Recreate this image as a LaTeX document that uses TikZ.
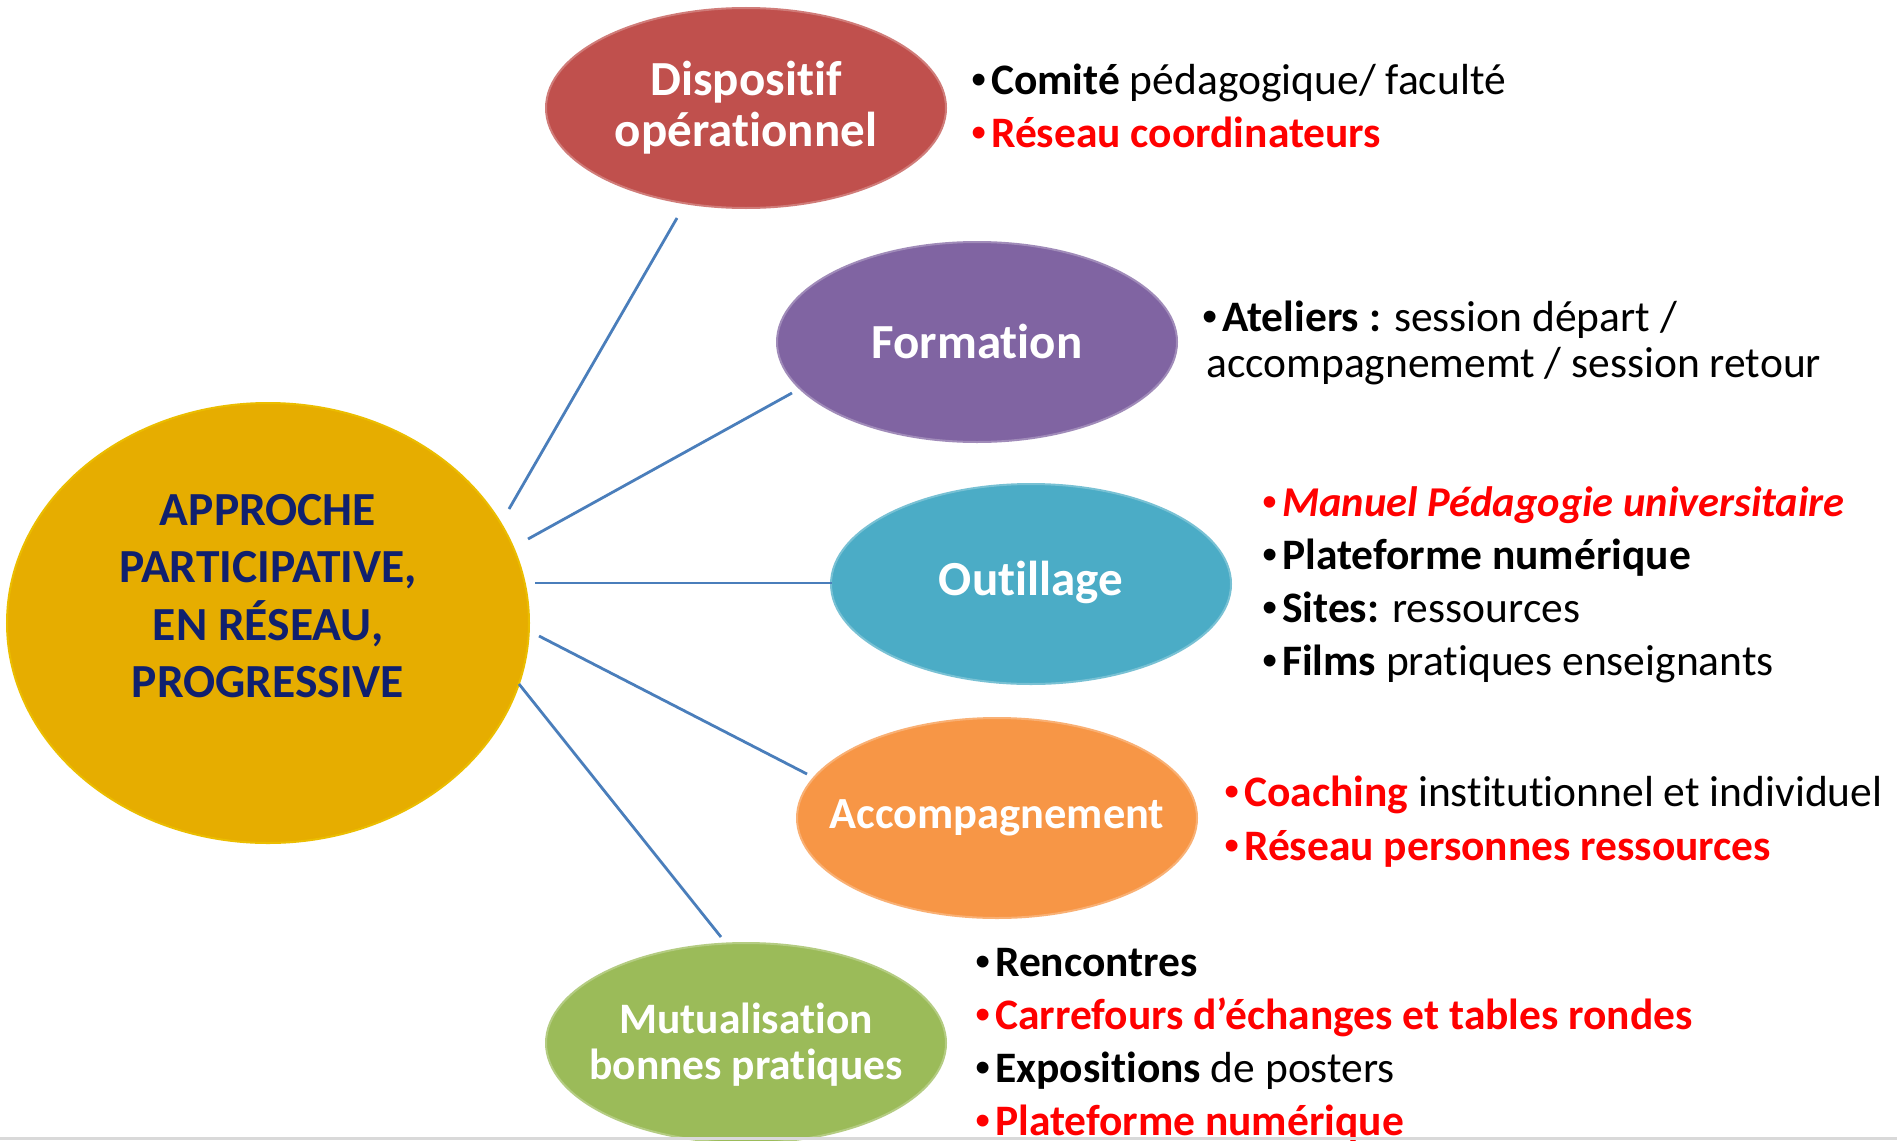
\documentclass[tikz,border=0pt]{standalone}
\usepackage{fontspec}
\setmainfont{Carlito}[Ligatures=NoCommon]
\newfontfamily\bulfont{Liberation Sans}
\usetikzlibrary{shapes.geometric}
\definecolor{goldc}{HTML}{E6AD00}
\definecolor{redc}{HTML}{C0504D}
\definecolor{purplec}{HTML}{8064A2}
\definecolor{bluec}{HTML}{4BACC6}
\definecolor{orangec}{HTML}{F79646}
\definecolor{greenc}{HTML}{9BBB59}
\definecolor{navyc}{HTML}{10206E}
\definecolor{linec}{HTML}{4A7EBB}
\definecolor{hired}{HTML}{FF0000}
\newcommand\blt{\makebox[20pt][l]{\bulfont •}}
\tikzset{
  bubble/.style={ellipse, inner sep=0pt, minimum width=400pt, minimum height=200pt,
    fill=#1, draw=#1!75!white, line width=2pt},
  bubbletext/.style={inner sep=0pt, text=white, align=center,
    font=\bfseries\fontsize{49}{#1}\selectfont},
  bubbletext/.default=48,
  conn/.style={draw=linec, line width=2.8pt},
  listitem/.style={anchor=base west, inner sep=0pt, font=\fontsize{43.5}{53}\selectfont},
  redtxt/.style={text=hired}
}
\begin{document}
\begin{tikzpicture}[x=1pt,y=-1pt]
\clip (0,0) rectangle (1897,1140);
\fill[white] (0,0) rectangle (1897,1140);

% central
\node[ellipse, inner sep=0pt, minimum width=522pt, minimum height=440pt,
  fill=goldc, draw=goldc!80!yellow, line width=2pt] (C) at (268,623) {};
\node[inner sep=0pt, text=navyc, align=center,
  font=\bfseries\fontsize{47.5}{57.5}\selectfont] (C-t) at (268,596)
  {APPROCHE\\PARTICIPATIVE,\\EN RÉSEAU,\\PROGRESSIVE};

% satellites
\node[bubble=redc] (D) at (746,108) {};
\node[bubbletext=51] (D-t) at (746,108) {Dispositif\\opérationnel};
\node[bubble=purplec] (F) at (977,342) {};
\node[bubbletext] (F-t) at (977,341) {Formation};
\node[bubble=bluec] (O) at (1031,584) {};
\node[bubbletext] (O-t) at (1031,582) {Outillage};
\node[bubble=orangec] (A) at (997,818) {};
\node[bubbletext, font=\bfseries\fontsize{44.5}{46}\selectfont] (A-t) at (997,818) {Accompagnement};
\node[bubble=greenc] (M) at (746,1043) {};
\node[bubbletext, font=\bfseries\fontsize{43.5}{46}\selectfont] (M-t) at (746,1045) {Mutualisation\\bonnes pratiques};

% connector ends
\coordinate (c1) at (509,509); \coordinate (d1) at (677,218);
\coordinate (c2) at (528,539); \coordinate (f1) at (792,393);
\coordinate (c3) at (535,583); \coordinate (o1) at (832,583);
\coordinate (c4) at (539,636); \coordinate (a1) at (807,774);
\coordinate (c5) at (519,684); \coordinate (m1) at (721,937);
\draw[conn] (c1) -- (d1);
\draw[conn] (c2) -- (f1);
\draw[conn] (c3) -- (o1);
\draw[conn] (c4) -- (a1);
\draw[conn] (c5) -- (m1);

% Dispositif list
\node[listitem] (d-l1) at (971,94) {\blt\textbf{Comité} pédagogique/ faculté};
\node[listitem, redtxt] (d-l2) at (971,147) {\blt\textbf{Réseau coordinateurs}};

% Formation list
\node[listitem] (f-l1) at (1202,331) {\blt\textbf{Ateliers :} session départ /};
\node[listitem] (f-l2) at (1206,377) {accompagnememt / session retour};

% Outillage list
\node[listitem, redtxt, font=\fontsize{42.5}{53}\selectfont] (o-l1) at (1262,516) {\blt\textbf{\textit{Manuel Pédagogie universitaire}}};
\node[listitem] (o-l2) at (1262,569) {\blt\textbf{Plateforme numérique}};
\node[listitem] (o-l3) at (1262,622) {\blt\textbf{Sites:} ressources};
\node[listitem] (o-l4) at (1262,675) {\blt\textbf{Films} pratiques enseignants};

% Accompagnement list
\node[listitem] (a-l1) at (1224,806) {\textcolor{hired}{\blt\textbf{Coaching}} institutionnel et individuel};
\node[listitem, redtxt] (a-l2) at (1224,860) {\blt\textbf{Réseau personnes ressources}};

% Mutualisation list
\node[listitem] (m-l1) at (975,976) {\blt\textbf{Rencontres}};
\node[listitem, redtxt] (m-l2) at (975,1029) {\blt\textbf{Carrefours d’échanges et tables rondes}};
\node[listitem] (m-l3) at (975,1082) {\blt\textbf{Expositions} de posters};
\node[listitem, redtxt] (m-l4) at (975,1135) {\blt\textbf{Plateforme numérique}};

% bottom rule
\fill[black!15] (0,1137) rectangle (1897,1140);
\end{tikzpicture}
\end{document}
